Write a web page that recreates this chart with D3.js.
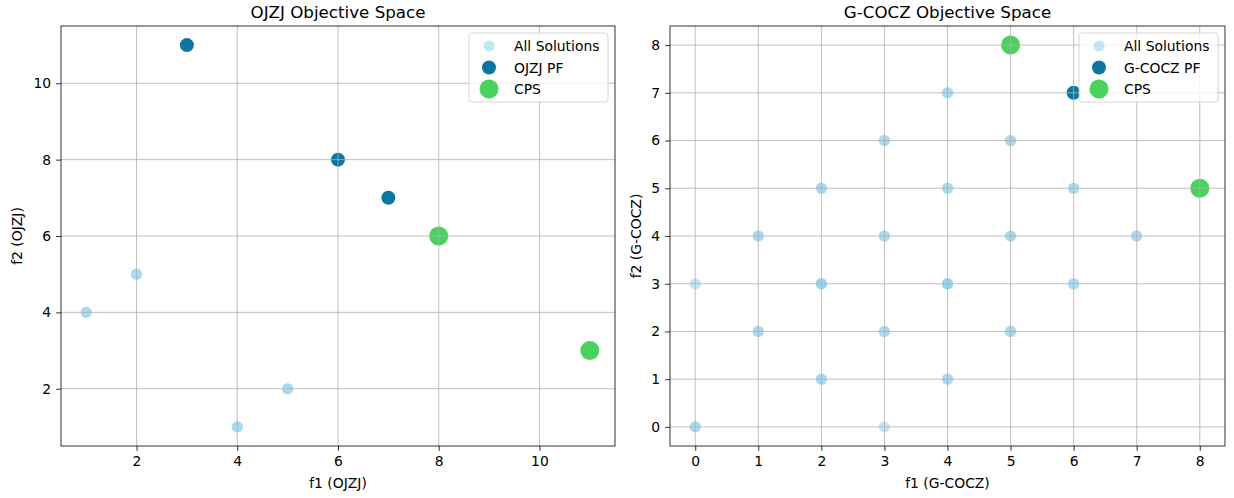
<!DOCTYPE html>
<html>
<head>
<meta charset="utf-8">
<script src="https://cdn.jsdelivr.net/npm/d3@7"></script>
<style>
	body { margin: 0; background: #fff; }
	svg { display: block; font-family: "DejaVu Sans", sans-serif; }
</style>
</head>
<body>
<div id="chart"></div>
<script>
// [f1, f2] pairs, repeated points are kept as they appear stacked in the plot
var ojzjAll = [[1, 4], [1, 4], [2, 5], [2, 5], [4, 1], [4, 1], [5, 2], [5, 2]];
var ojzjPF = [[3, 11], [6, 8], [7, 7]];
var ojzjCPS = [[8, 6], [11, 3]];
var ojzjTicks = [2, 4, 6, 8, 10];

var coczAll = [
	[0, 0], [0, 0], [0, 3], [1, 2], [1, 2], [1, 4], [1, 4],
	[2, 1], [2, 1], [2, 3], [2, 3], [2, 3], [2, 5], [2, 5],
	[3, 0], [3, 2], [3, 2], [3, 4], [3, 4], [3, 6], [3, 6],
	[4, 1], [4, 1], [4, 3], [4, 3], [4, 3], [4, 5], [4, 5], [4, 7], [4, 7],
	[5, 2], [5, 2], [5, 4], [5, 4], [5, 6], [5, 6],
	[6, 3], [6, 3], [6, 5], [6, 5], [7, 4], [7, 4]
];
var coczPF = [[6, 7]];
var coczCPS = [[5, 8], [8, 5]];
var coczTicks = [0, 1, 2, 3, 4, 5, 6, 7, 8];

var Chart = (function () {
	var W = 1234, H = 498;
	var top = 26, bottom = 446;
	var fs = 13.9;

	var svg = d3.select("#chart").append("svg")
		.attr("width", W)
		.attr("height", H);

	function panel(opts) {
		var x = d3.scaleLinear().domain(opts.xDomain).range([opts.left, opts.right]);
		var y = d3.scaleLinear().domain(opts.yDomain).range([bottom, top]);
		var g = svg.append("g");

		var clipId = "clip" + opts.name;
		g.append("clipPath").attr("id", clipId)
			.append("rect")
				.attr("x", opts.left).attr("y", top)
				.attr("width", opts.right - opts.left).attr("height", bottom - top);

		var plot = g.append("g").attr("clip-path", "url(#" + clipId + ")");

		function dots(data, r, fill, op) {
			plot.append("g")
				.selectAll("circle")
				.data(data)
				.enter()
					.append("circle")
						.attr("cx", function (d) { return x(d[0]); })
						.attr("cy", function (d) { return y(d[1]); })
						.attr("r", r)
						.attr("fill", fill)
						.attr("fill-opacity", op);
		}
		dots(opts.all, 5.6, "#87ceeb", 0.5);
		dots(opts.pf, 7, "#0b76a0", 1);
		dots(opts.cps, 9.5, "#48d45c", 1);

		// grid sits above the scatter, like the reference
		var grid = g.append("g").attr("stroke", "#b0b0b0").attr("stroke-width", 0.8);
		opts.xTicks.forEach(function (t) {
			grid.append("line").attr("x1", x(t)).attr("x2", x(t)).attr("y1", top).attr("y2", bottom);
		});
		opts.yTicks.forEach(function (t) {
			grid.append("line").attr("x1", opts.left).attr("x2", opts.right).attr("y1", y(t)).attr("y2", y(t));
		});

		var xAxis = g.append("g")
			.attr("transform", "translate(0," + bottom + ")")
			.call(d3.axisBottom(x).tickValues(opts.xTicks).tickSize(4.9).tickPadding(4.9).tickFormat(d3.format("d")));
		var yAxis = g.append("g")
			.attr("transform", "translate(" + opts.left + ",0)")
			.call(d3.axisLeft(y).tickValues(opts.yTicks).tickSize(4.9).tickPadding(4.9).tickFormat(d3.format("d")));
		[xAxis, yAxis].forEach(function (a) {
			a.select(".domain").remove();
			a.selectAll("line").attr("stroke", "#000").attr("stroke-width", 0.8);
			a.selectAll("text").attr("fill", "#000").style("font-size", fs + "px").style("font-family", "DejaVu Sans");
		});

		g.append("rect")
			.attr("x", opts.left).attr("y", top)
			.attr("width", opts.right - opts.left).attr("height", bottom - top)
			.attr("fill", "none").attr("stroke", "#000").attr("stroke-width", 0.8);

		g.append("text")
			.attr("x", (opts.left + opts.right) / 2).attr("y", 18)
			.attr("text-anchor", "middle").style("font-size", "16.7px")
			.text(opts.title);
		g.append("text")
			.attr("x", (opts.left + opts.right) / 2).attr("y", 488)
			.attr("text-anchor", "middle").style("font-size", fs + "px")
			.text(opts.xLabel);
		g.append("text")
			.attr("transform", "translate(" + opts.yLabelX + "," + ((top + bottom) / 2) + ") rotate(-90)")
			.attr("text-anchor", "middle").style("font-size", fs + "px")
			.text(opts.yLabel);

		// legend
		var lw = 139, lh = 69;
		var lx = opts.right - 7 - lw, ly = top + 7;
		var leg = g.append("g");
		leg.append("rect")
			.attr("x", lx).attr("y", ly).attr("width", lw).attr("height", lh)
			.attr("rx", 3).attr("fill", "#fff").attr("fill-opacity", 0.8)
			.attr("stroke", "#cccccc").attr("stroke-opacity", 0.8).attr("stroke-width", 1);
		var items = [
			{ label: "All Solutions", r: 5.6, fill: "#87ceeb", op: 0.5 },
			{ label: opts.name + " PF", r: 7, fill: "#0b76a0", op: 1 },
			{ label: "CPS", r: 9.5, fill: "#48d45c", op: 1 }
		];
		items.forEach(function (d, i) {
			var cy = ly + 13 + i * 21.5;
			leg.append("circle").attr("cx", lx + 20).attr("cy", cy).attr("r", d.r)
				.attr("fill", d.fill).attr("fill-opacity", d.op);
			leg.append("text").attr("x", lx + 45).attr("y", cy + 5)
				.style("font-size", fs + "px").text(d.label);
		});
	}

	return { panel: panel };
})();

Chart.panel({
	name: "OJZJ", title: "OJZJ Objective Space",
	xLabel: "f1 (OJZJ)", yLabel: "f2 (OJZJ)", yLabelX: 22,
	left: 61, right: 615,
	xDomain: [0.5, 11.5], yDomain: [0.5, 11.5],
	xTicks: ojzjTicks, yTicks: ojzjTicks,
	all: ojzjAll, pf: ojzjPF, cps: ojzjCPS
});

Chart.panel({
	name: "G-COCZ", title: "G-COCZ Objective Space",
	xLabel: "f1 (G-COCZ)", yLabel: "f2 (G-COCZ)", yLabelX: 641,
	left: 670, right: 1225,
	xDomain: [-0.4, 8.4], yDomain: [-0.4, 8.4],
	xTicks: coczTicks, yTicks: coczTicks,
	all: coczAll, pf: coczPF, cps: coczCPS
});
</script>
</body>
</html>
